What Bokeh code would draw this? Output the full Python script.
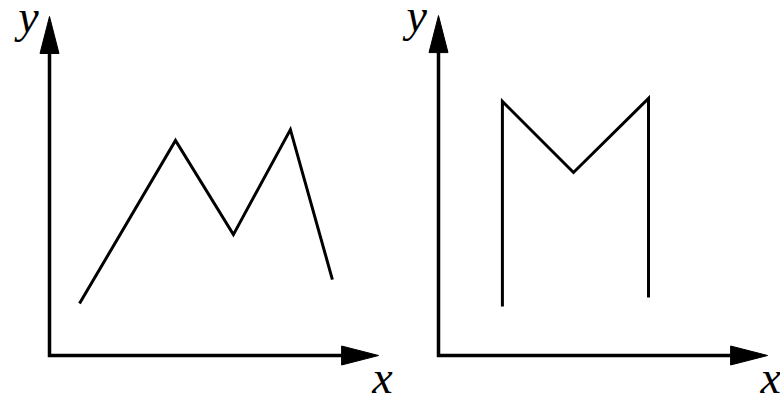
from bokeh.plotting import figure
from bokeh.layouts import row
from bokeh.models import Range1d
from bokeh.core.properties import value
from bokeh.embed import file_html
from bokeh.resources import INLINE

# ---- data (units: 1 unit = 30 px, origin at each panel's axes corner) ----
left_x = [1.0, 4.2, 6.13, 8.03, 9.43]
left_y = [1.73, 7.17, 4.03, 7.53, 2.53]
right_x = [2.13, 2.13, 4.5, 7.0, 7.0]
right_y = [1.63, 8.47, 6.1, 8.57, 1.93]
axis_names = ["x", "y"]
left_axis_len = [10.97, 11.3]
right_axis_len = [10.97, 11.33]

PX = 30.0
H = 397
OY = 42  # origin distance from bottom, px
HEAD_LEN = 37 / PX
HEAD_HALF = 9.5 / PX
FONT = value("Liberation Serif")


def make_panel(width, ox, xs, ys, lens, ylab_dx, xlab_dx):
    xlen, ylen = lens
    p = figure(width=width, height=H,
               x_range=Range1d(-ox / PX, (width - ox) / PX),
               y_range=Range1d(-OY / PX, (H - OY) / PX),
               x_axis_type=None, y_axis_type=None,
               toolbar_location=None, output_backend="svg", min_border=0)
    p.outline_line_color = None
    p.background_fill_color = "white"
    p.border_fill_color = "white"
    # axes shafts
    p.line([0, 0, xlen - HEAD_LEN], [ylen - HEAD_LEN, 0, 0],
           line_width=3.5, line_color="black", line_join="miter")
    # arrow heads
    p.patch([-HEAD_HALF, 0, HEAD_HALF], [ylen - HEAD_LEN, ylen, ylen - HEAD_LEN],
            fill_color="black", line_color="black")
    p.patch([xlen - HEAD_LEN, xlen, xlen - HEAD_LEN], [-HEAD_HALF, 0, HEAD_HALF],
            fill_color="black", line_color="black")
    # data line
    p.line(xs, ys, line_width=3, line_color="black", line_join="miter")
    # axis labels
    p.text(x=[ylab_dx], y=[ylen], text=[axis_names[1]],
           text_font=FONT, text_font_style="italic", text_font_size="46px",
           text_align="center", text_baseline="alphabetic", text_color="black")
    p.text(x=[xlab_dx], y=[-22 / PX], text=[axis_names[0]],
           text_font=FONT, text_font_style="italic", text_font_size="46px",
           text_align="center", text_baseline="alphabetic", text_color="black")
    return p


p1 = make_panel(398, 49, left_x, left_y, left_axis_len, -0.7, 11.1)
p2 = make_panel(382, 40, right_x, right_y, right_axis_len, -0.73, 11.07)

layout = row(p1, p2)
open("out.html", "w").write(file_html(layout, INLINE))
